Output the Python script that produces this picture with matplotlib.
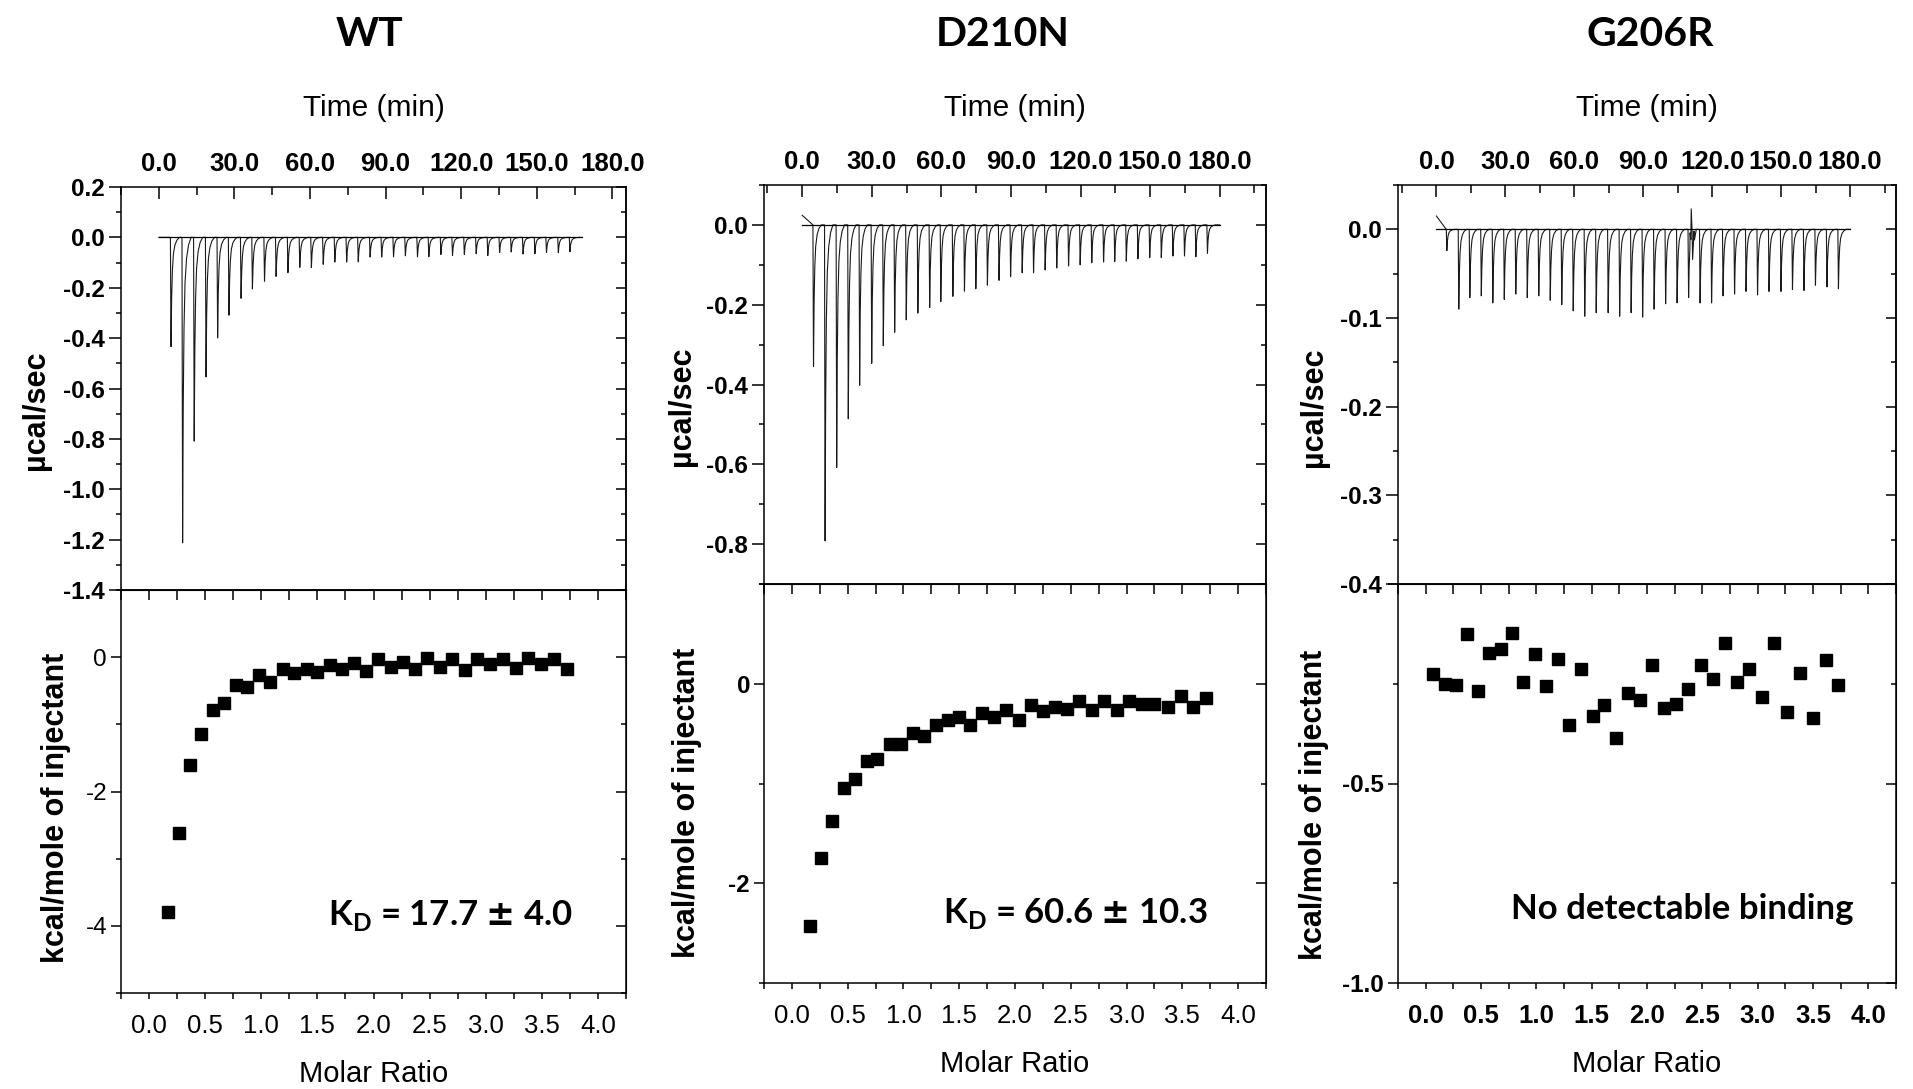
import matplotlib.pyplot as plt
from matplotlib.ticker import MultipleLocator, NullFormatter
import numpy as np

plt.rcParams['font.family'] = ['Liberation Sans', 'DejaVu Sans']
plt.rcParams['axes.unicode_minus'] = False
plt.rcParams['mathtext.fontset'] = 'custom'
plt.rcParams['mathtext.rm'] = 'Lato:bold'
plt.rcParams['mathtext.bf'] = 'Lato:bold'
plt.rcParams['mathtext.sf'] = 'DejaVu Sans:bold'

# ---------------- data ----------------
# raw thermograms: injection time (min) and peak depth (ucal/sec)
wt_inj_time = [4.6, 9.2, 13.8, 18.5, 23.1, 27.6, 32.4, 36.9, 41.7, 46.3, 51.0, 55.7,
               60.3, 65.0, 69.6, 74.3, 78.9, 83.6, 88.2, 92.9, 97.6, 102.4, 106.9,
               111.7, 116.3, 121.0, 125.7, 130.3, 135.0, 139.6, 144.3, 149.0, 153.6,
               158.3, 162.9]
wt_peak = [-0.434, -1.213, -0.809, -0.554, -0.399, -0.309, -0.242, -0.205, -0.174,
           -0.155, -0.140, -0.119, -0.120, -0.107, -0.098, -0.098, -0.097, -0.078,
           -0.078, -0.077, -0.073, -0.077, -0.077, -0.068, -0.072, -0.068, -0.065,
           -0.072, -0.060, -0.058, -0.066, -0.065, -0.060, -0.061, -0.057]
wt_t_end = 167.8

d210n_inj_time = [4.6, 9.6, 14.6, 19.6, 24.5, 29.7, 34.7, 39.6, 44.6, 49.6, 54.7, 59.5,
                  64.7, 69.7, 74.6, 79.6, 84.6, 89.6, 94.6, 99.5, 104.5, 109.5, 114.6,
                  119.6, 124.6, 129.7, 134.5, 139.5, 144.5, 149.6, 154.6, 159.6, 164.6,
                  169.5, 174.5]
d210n_peak = [-0.355, -0.792, -0.608, -0.486, -0.402, -0.347, -0.303, -0.269, -0.238,
              -0.221, -0.207, -0.192, -0.179, -0.166, -0.160, -0.151, -0.139, -0.130,
              -0.120, -0.120, -0.113, -0.108, -0.103, -0.100, -0.095, -0.093, -0.092,
              -0.091, -0.085, -0.082, -0.082, -0.078, -0.078, -0.080, -0.071]
d210n_t_end = 180.0
d210n_start = 0.024

g206r_inj_time = [4.3, 9.5, 14.3, 19.3, 24.3, 29.3, 34.3, 39.3, 44.3, 49.3, 54.3, 59.3,
                  64.3, 69.3, 74.5, 79.5, 84.5, 89.5, 94.5, 99.5, 104.5, 109.5, 114.5,
                  119.5, 124.5, 129.5, 134.5, 139.5, 144.5, 149.7, 154.7, 159.7, 164.7,
                  169.7, 174.7]
g206r_peak = [-0.024, -0.090, -0.077, -0.075, -0.083, -0.079, -0.073, -0.077, -0.075,
              -0.080, -0.085, -0.092, -0.098, -0.094, -0.094, -0.098, -0.094, -0.099,
              -0.090, -0.084, -0.083, -0.077, -0.083, -0.083, -0.075, -0.073, -0.070,
              -0.074, -0.070, -0.070, -0.068, -0.069, -0.063, -0.065, -0.067]
g206r_t_end = 180.0
g206r_start = 0.015
g206r_spike_t = [110.4, 110.9, 111.5, 112.3]
g206r_spike_v = [-0.004, 0.023, -0.034, -0.012]

# integrated heats: molar ratio and kcal/mole of injectant
wt_ratio = [0.169, 0.269, 0.366, 0.467, 0.570, 0.670, 0.777, 0.877, 0.980, 1.078,
            1.190, 1.294, 1.403, 1.500, 1.613, 1.717, 1.823, 1.933, 2.042, 2.152,
            2.262, 2.370, 2.480, 2.590, 2.697, 2.813, 2.922, 3.040, 3.150, 3.267,
            3.377, 3.490, 3.605, 3.724]
wt_heat = [-3.79, -2.62, -1.60, -1.15, -0.79, -0.68, -0.41, -0.44, -0.26, -0.37,
           -0.17, -0.23, -0.17, -0.22, -0.11, -0.17, -0.08, -0.21, -0.03, -0.14,
           -0.07, -0.17, -0.01, -0.15, -0.03, -0.19, -0.03, -0.10, -0.02, -0.16,
           -0.01, -0.10, -0.02, -0.17]

d210n_ratio = [0.164, 0.263, 0.363, 0.466, 0.566, 0.669, 0.765, 0.883, 0.975, 1.085,
               1.181, 1.292, 1.395, 1.500, 1.600, 1.708, 1.815, 1.922, 2.032, 2.142,
               2.249, 2.356, 2.466, 2.577, 2.690, 2.800, 2.910, 3.025, 3.135, 3.246,
               3.370, 3.484, 3.598, 3.710]
d210n_heat = [-2.43, -1.75, -1.38, -1.05, -0.95, -0.77, -0.75, -0.60, -0.60, -0.49,
              -0.52, -0.41, -0.36, -0.33, -0.41, -0.29, -0.33, -0.26, -0.36, -0.21,
              -0.27, -0.23, -0.25, -0.17, -0.26, -0.17, -0.26, -0.17, -0.20, -0.20,
              -0.23, -0.12, -0.23, -0.14]

g206r_ratio = [0.068, 0.172, 0.272, 0.369, 0.469, 0.573, 0.677, 0.777, 0.881, 0.985,
               1.085, 1.192, 1.293, 1.400, 1.508, 1.611, 1.719, 1.830, 1.934, 2.041,
               2.152, 2.260, 2.374, 2.485, 2.593, 2.704, 2.815, 2.926, 3.040, 3.151,
               3.269, 3.384, 3.499, 3.613, 3.728]
g206r_heat = [-0.225, -0.250, -0.254, -0.125, -0.267, -0.173, -0.164, -0.123, -0.246,
              -0.175, -0.256, -0.187, -0.353, -0.214, -0.331, -0.304, -0.387, -0.272,
              -0.291, -0.202, -0.312, -0.300, -0.262, -0.203, -0.239, -0.148, -0.245,
              -0.214, -0.284, -0.148, -0.322, -0.223, -0.337, -0.191, -0.254]

titles = ['WT', 'D210N', 'G206R']
notes = [r'K$_\mathregular{D}$ = 17.7 $\mathsf{\pm}$ 4.0',
         r'K$_\mathregular{D}$ = 60.6 $\mathsf{\pm}$ 10.3',
         'No detectable binding']

# shape of one injection peak (time after injection, fraction of depth)
shape_dt = [0, 0.25, 0.5, 0.8, 1.2, 1.8, 2.6, 3.6]
shape_frac = [0, 1, 0.55, 0.3, 0.15, 0.07, 0.025, 0]


def build_trace(times, peaks, t_end, start=0.0, extra_t=(), extra_v=()):
    tt, yy = [0.0], [start]
    for t, p in zip(times, peaks):
        for dt, f in zip(shape_dt, shape_frac):
            tt.append(t + dt)
            yy.append(p * f)
    tt += list(extra_t)
    yy += list(extra_v)
    tt.append(t_end)
    yy.append(0.0)
    order = np.argsort(tt, kind='stable')
    return np.array(tt)[order], np.array(yy)[order]


W, H = 1913, 1089
fig = plt.figure(figsize=(W / 100, H / 100), dpi=100)


def box(l, r, t, b):
    return [l / W, 1 - b / H, (r - l) / W, (b - t) / H]


LW = 1.1
YTICK_FS = 17.5
XTICK_FS = 18.5


def style_upper(ax, ylim, ymajor, yminor, tlim):
    ax.set_xlim(*tlim)
    ax.set_ylim(*ylim)
    ax.xaxis.set_major_locator(MultipleLocator(30))
    ax.xaxis.set_minor_locator(MultipleLocator(15))
    ax.xaxis.set_major_formatter(lambda v, p: '%.1f' % v if v >= 0 else '')
    ax.tick_params(axis='x', which='both', bottom=False, labelbottom=False,
                   top=True, labeltop=True, direction='in', width=LW)
    ax.tick_params(axis='x', which='major', length=8.6, pad=8)
    ax.tick_params(axis='x', which='minor', length=5.8)
    ax.yaxis.set_major_locator(MultipleLocator(ymajor))
    ax.yaxis.set_minor_locator(MultipleLocator(yminor))
    ax.yaxis.set_major_formatter('{x:.1f}')
    ax.tick_params(axis='y', which='both', right=False, direction='out', width=LW)
    ax.tick_params(axis='y', which='major', length=8.6, pad=3)
    ax.tick_params(axis='y', which='minor', length=3.6)
    for lab in ax.get_xticklabels():
        lab.set_fontweight('bold')
        lab.set_fontsize(XTICK_FS)
    for lab in ax.get_yticklabels():
        lab.set_fontweight('bold')
        lab.set_fontsize(YTICK_FS)
    sec = ax.secondary_yaxis('right')
    sec.yaxis.set_major_locator(MultipleLocator(ymajor))
    sec.yaxis.set_minor_locator(MultipleLocator(yminor))
    sec.yaxis.set_major_formatter(NullFormatter())
    sec.tick_params(axis='y', which='both', direction='in', width=LW)
    sec.tick_params(axis='y', which='major', length=7)
    sec.tick_params(axis='y', which='minor', length=3.6)
    sec.spines['right'].set_linewidth(LW)
    for s in ax.spines.values():
        s.set_linewidth(LW)


def style_lower(ax, ylim, yticks, ylabels, yminor, ybold, xbold):
    ax.set_xlim(-0.25, 4.25)
    ax.set_ylim(*ylim)
    ax.xaxis.set_major_locator(MultipleLocator(0.5))
    ax.xaxis.set_minor_locator(MultipleLocator(0.25))
    ax.xaxis.set_major_formatter('{x:.1f}')
    ax.tick_params(axis='x', which='both', top=False, direction='out',
                   length=4.3, width=LW, pad=10.5)
    ax.set_yticks(yticks, ylabels)
    ax.yaxis.set_minor_locator(MultipleLocator(yminor))
    ax.tick_params(axis='y', which='both', right=False, direction='out', width=LW)
    ax.tick_params(axis='y', which='major', length=7, pad=3)
    ax.tick_params(axis='y', which='minor', length=3.6)
    for lab in ax.get_xticklabels():
        lab.set_fontsize(XTICK_FS)
        lab.set_fontweight('bold' if xbold else 'normal')
    for lab in ax.get_yticklabels():
        lab.set_fontsize(YTICK_FS)
        lab.set_fontweight('bold' if ybold else 'normal')
    sec = ax.secondary_xaxis('top')
    sec.xaxis.set_major_locator(MultipleLocator(0.5))
    sec.xaxis.set_minor_locator(MultipleLocator(0.25))
    sec.xaxis.set_major_formatter(NullFormatter())
    sec.tick_params(axis='x', which='both', direction='in', length=7, width=LW)
    secy = ax.secondary_yaxis('right')
    secy.set_yticks(yticks, [''] * len(yticks))
    secy.yaxis.set_minor_locator(MultipleLocator(yminor))
    secy.tick_params(axis='y', which='both', direction='in', width=LW)
    secy.tick_params(axis='y', which='major', length=7)
    secy.tick_params(axis='y', which='minor', length=3.6)
    for s in ax.spines.values():
        s.set_linewidth(LW)


# column geometry in pixels: left, right, top, middle, bottom
cols = [(121, 626, 187, 590, 993),
        (764, 1266, 185, 584, 983),
        (1398, 1896, 185, 584, 983)]

traces = [build_trace(wt_inj_time, wt_peak, wt_t_end),
          build_trace(d210n_inj_time, d210n_peak, d210n_t_end, d210n_start),
          build_trace(g206r_inj_time, g206r_peak, g206r_t_end, g206r_start,
                      g206r_spike_t, g206r_spike_v)]
t_ends = [wt_t_end, d210n_t_end, g206r_t_end]
scatter = [(wt_ratio, wt_heat, 8.6), (d210n_ratio, d210n_heat, 9.0),
           (g206r_ratio, g206r_heat, 9.0)]
tlims = [(-15, 185.4), (-16.5, 200), (-16.7, 200)]
upper_y = [((-1.4, 0.2), 0.2, 0.1), ((-0.9, 0.1), 0.2, 0.1), ((-0.4, 0.05), 0.1, 0.05)]
lower_y = [((-5, 1), [-4, -2, 0], ['-4', '-2', '0'], 1, False, False),
           ((-3, 1), [-2, 0], ['-2', '0'], 1, True, False),
           ((-1.0, 0.0), [-1.0, -0.5, 0.0], ['-1.0', '-0.5', ''], 0.25, True, True)]
note_pos = [(3.78, -3.99), (3.73, -2.40), (3.87, -0.84)]

title_x = [370, 1003, 1650]
ylab_up = [(36, 410), (682, 406), (1314, 407)]
ylab_lo = [(56, 808), (687, 803), (1314, 805)]
mr_y = [1074, 1064, 1064]

for i in range(3):
    l, r, t, m, b = cols[i]
    axu = fig.add_axes(box(l, r, t, m))
    axl = fig.add_axes(box(l, r, m, b))

    tt, yy = traces[i]
    axu.plot(tt, yy, color='#1a1a1a', lw=0.8)
    axu.plot([0, t_ends[i]], [0, 0], color='black', lw=0.9)
    ylim, ymaj, ymin = upper_y[i]
    style_upper(axu, ylim, ymaj, ymin, tlims[i])

    xr, hv, ms = scatter[i]
    axl.plot(xr, hv, ls='none', marker='s', ms=ms, color='black')
    style_lower(axl, *lower_y[i])
    axl.text(note_pos[i][0], note_pos[i][1], notes[i], ha='right', va='baseline',
             fontsize=25, fontweight='bold', family=['Lato', 'DejaVu Sans'])

    cx = (l + r) / 2 / W
    fig.text(title_x[i] / W, 1 - 35 / H, titles[i], ha='center', va='center',
             fontsize=29.5, fontweight='bold', family=['Lato', 'DejaVu Sans'])
    fig.text(cx, 1 - 108 / H, 'Time (min)', ha='center', va='center', fontsize=21.5)
    fig.text(cx, 1 - mr_y[i] / H, 'Molar Ratio', ha='center', va='center', fontsize=21)
    fig.text(ylab_up[i][0] / W, 1 - ylab_up[i][1] / H, '\u00b5cal/sec', rotation=90,
             ha='center', va='center', fontsize=22, fontweight='bold')
    fig.text(ylab_lo[i][0] / W, 1 - ylab_lo[i][1] / H, 'kcal/mole of injectant',
             rotation=90, ha='center', va='center', fontsize=22, fontweight='bold')

fig.savefig('out.png', dpi=100)
